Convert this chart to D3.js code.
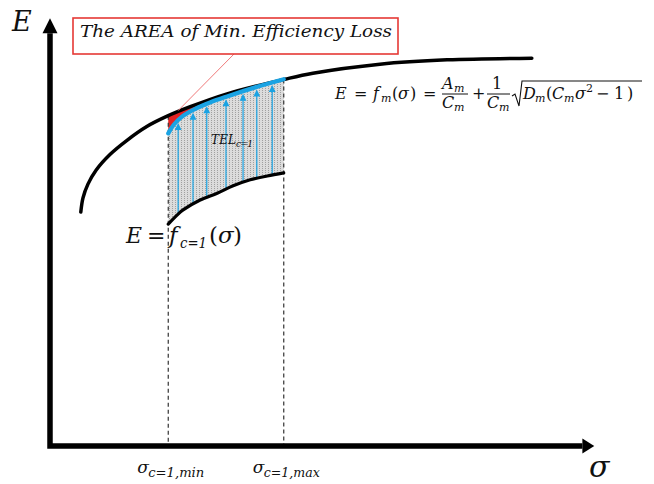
<!DOCTYPE html>
<html>
<head>
<meta charset="utf-8">
<script src="https://cdn.jsdelivr.net/npm/d3@7"></script>
<style>
  html, body { margin: 0; padding: 0; background: #fff; }
  svg { display: block; }
  text { font-family: 'DejaVu Serif', serif; fill: #111; }
</style>
</head>
<body>
<svg id="chart" width="654" height="484"></svg>
<script>
// Curve points, [sigma, E]
const upperCurve = [
  [0.56, 5.44], [0.60, 5.77], [0.69, 6.09], [0.84, 6.42], [1.09, 6.78],
  [1.40, 7.11], [1.76, 7.43], [2.13, 7.67], [2.55, 7.89], [3.22, 8.19],
  [4.27, 8.53], [4.78, 8.67], [6.00, 8.88], [7.22, 8.98], [8.76, 9.02]
]
const blueCurve = [
  [2.15, 7.27], [2.25, 7.47], [2.40, 7.66], [2.64, 7.84], [2.91, 7.99],
  [3.22, 8.13], [3.73, 8.34], [4.25, 8.53]
]
const lowerCurve = [
  [2.15, 5.16], [2.31, 5.37], [2.42, 5.49], [2.73, 5.72], [3.04, 5.88],
  [3.33, 6.05], [3.64, 6.19], [3.95, 6.28], [4.25, 6.35]
]
const arrowSigmas = [2.33, 2.60, 2.85, 3.20, 3.51, 3.76, 4.04]
const sigmaMin = 2.15
const sigmaMax = 4.25
const axisEnd = 9.95

const blue = '#1aa3e3'
const red = '#e52222'

const svg = d3.select('#chart')

const x = d3.scaleLinear().domain([0, 10]).range([50, 600])
const y = d3.scaleLinear().domain([0, 10]).range([446, 16])

// piecewise lookups along each curve
const lerp = pts => d3.scaleLinear().domain(pts.map(d => d[0])).range(pts.map(d => d[1]))
const upperAt = lerp(upperCurve)
const blueAt = lerp(blueCurve)
const lowerAt = lerp(lowerCurve)

const curve = d3.curveCatmullRom.alpha(0.5)
const line = d3.line().x(d => x(d[0])).y(d => y(d[1])).curve(curve)
const below = d3.area().x(d => x(d[0])).y0(y(0)).y1(d => y(d[1])).curve(curve)
const above = d3.area().x(d => x(d[0])).y0(d => y(d[1])).y1(y(10)).curve(curve)

const defs = svg.append('defs')
defs.append('clipPath').attr('id', 'underBlue').append('path').attr('d', below(blueCurve))
defs.append('clipPath').attr('id', 'underUpper').append('path').attr('d', below(upperCurve))

const hatch = defs.append('pattern')
  .attr('id', 'hatch')
  .attr('patternUnits', 'userSpaceOnUse')
  .attr('width', 3).attr('height', 2)
hatch.append('rect').attr('width', 3).attr('height', 2).attr('fill', '#dcdcdc')
hatch.append('rect').attr('x', 1).attr('width', 1).attr('height', 1).attr('fill', '#a0a0a0')

// hatched loss area between lower curve and blue curve
svg.append('g').attr('clip-path', 'url(#underBlue)')
  .append('path')
  .attr('d', above(lowerCurve))
  .attr('fill', 'url(#hatch)')

// red sliver between blue curve and upper curve
svg.append('g').attr('clip-path', 'url(#underUpper)')
  .append('path')
  .attr('d', above(blueCurve))
  .attr('fill', red)

// dashed guides
svg.selectAll('.guide')
  .data([sigmaMin, sigmaMax])
  .enter().append('line')
  .attr('class', 'guide')
  .attr('x1', d => x(d)).attr('x2', d => x(d))
  .attr('y1', d => y(upperAt(d))).attr('y2', y(0))
  .attr('stroke', '#333').attr('stroke-width', 1.2)
  .attr('stroke-dasharray', '4,3')

// blue arrows
const arrows = svg.append('g')
arrowSigmas.forEach(s => {
  const xs = x(s)
  const tip = y(blueAt(s)) + 2.5
  arrows.append('line')
    .attr('x1', xs).attr('x2', xs)
    .attr('y1', y(lowerAt(s))).attr('y2', tip + 4)
    .attr('stroke', blue).attr('stroke-width', 1.2)
  arrows.append('path')
    .attr('d', `M${xs},${tip}L${xs - 3.4},${tip + 7}L${xs + 3.4},${tip + 7}Z`)
    .attr('fill', blue)
})

// curves
svg.append('path').attr('d', line(lowerCurve))
  .attr('fill', 'none').attr('stroke', '#000').attr('stroke-width', 3.2).attr('stroke-linecap', 'round')
svg.append('path').attr('d', line(upperCurve))
  .attr('fill', 'none').attr('stroke', '#000').attr('stroke-width', 3.5).attr('stroke-linecap', 'round')
svg.append('path').attr('d', line(blueCurve))
  .attr('fill', 'none').attr('stroke', blue).attr('stroke-width', 4.2).attr('stroke-linecap', 'round')

// axes with arrow heads
svg.append('path')
  .attr('d', d3.line()([[x(0), y(9.6)], [x(0), y(0)], [x(9.68), y(0)]]))
  .attr('fill', 'none').attr('stroke', '#000').attr('stroke-width', 5.5)
svg.append('path')
  .attr('d', `M${x(0)},${y(axisEnd)}L${x(0) - 7.5},${y(9.6)}L${x(0) + 7.5},${y(9.6)}Z`)
  .attr('fill', '#000')
svg.append('path')
  .attr('d', `M${x(axisEnd) - 3},${y(0)}L${x(9.68)},${y(0) - 7.5}L${x(9.68)},${y(0) + 7.5}Z`)
  .attr('fill', '#000')

// helper for math-like text runs
const put = (g, str, px, py, size, italic) => g.append('text')
  .attr('x', px).attr('y', py)
  .attr('font-size', size)
  .attr('font-style', italic ? 'italic' : 'normal')
  .text(str)

// axis titles
put(svg, 'E', 12, 31, 27, true)
put(svg, 'σ', 589, 477, 30, true)

// sigma tick labels
const tickLab = [[sigmaMin, 'min'], [sigmaMax, 'max']]
tickLab.forEach(([s, k]) => {
  const x0 = x(s) - 31
  put(svg, 'σ', x0, 473, 17, true)
  put(svg, 'c=1,' + k, x0 + 11, 477, 12, true).attr('textLength', 56).attr('lengthAdjust', 'spacingAndGlyphs')
})

// lower curve label
put(svg, 'E', 126, 243, 22, true)
put(svg, '=', 147, 243, 22, false)
put(svg, 'f', 169, 243, 23, true)
put(svg, 'c=1', 180, 248, 14, true).attr('textLength', 27).attr('lengthAdjust', 'spacingAndGlyphs')
put(svg, '(', 209, 243, 23, false)
put(svg, 'σ', 218, 243, 23, true)
put(svg, ')', 233, 243, 23, false)

// TEL label
put(svg, 'TEL', 211, 144, 12, true).attr('textLength', 25)
put(svg, 'c=1', 236, 147, 9, true).attr('textLength', 17)

// formula
const f = svg.append('g').attr('transform', 'translate(335,0)')
put(f, 'E', 0, 99, 16, true)
put(f, '=', 19, 99, 16, false)
put(f, 'f', 38, 99, 16, true)
put(f, 'm', 46, 102, 11, true)
put(f, '(', 57, 99, 16, false)
put(f, 'σ', 63, 99, 16, true)
put(f, ')', 75, 99, 16, false)
put(f, '=', 88, 99, 16, false)
put(f, 'A', 107, 89, 16, true)
put(f, 'm', 119, 92, 11, true)
f.append('line').attr('x1', 107).attr('x2', 133).attr('y1', 94).attr('y2', 94).attr('stroke', '#111').attr('stroke-width', 1)
put(f, 'C', 107, 108, 16, true)
put(f, 'm', 119, 111, 11, true)
put(f, '+', 137, 99, 16, false)
put(f, '1', 157, 89, 16, false)
f.append('line').attr('x1', 152).attr('x2', 175).attr('y1', 94).attr('y2', 94).attr('stroke', '#111').attr('stroke-width', 1)
put(f, 'C', 152, 108, 16, true)
put(f, 'm', 164, 111, 11, true)
f.append('path')
  .attr('d', 'M177,96L180,94L184,106L187,81L307,81')
  .attr('fill', 'none').attr('stroke', '#111').attr('stroke-width', 1.1)
put(f, 'D', 188, 99, 16, true)
put(f, 'm', 200, 102, 11, true)
put(f, '(', 211, 99, 16, false)
put(f, 'C', 217, 99, 16, true)
put(f, 'm', 229, 102, 11, true)
put(f, 'σ', 240, 99, 16, true)
put(f, '2', 251, 92, 11, false)
put(f, '−', 261, 99, 16, false)
put(f, '1', 279, 99, 16, false)
put(f, ')', 292, 99, 16, false)

// annotation box and leader
svg.append('line')
  .attr('x1', 234).attr('y1', 54).attr('x2', x(2.33)).attr('y2', y(7.8))
  .attr('stroke', '#f07a7a').attr('stroke-width', 1)
svg.append('rect')
  .attr('x', 73).attr('y', 18).attr('width', 325).attr('height', 36)
  .attr('fill', '#fff').attr('stroke', '#e53935').attr('stroke-width', 1.6)
put(svg, 'The AREA of Min. Efficiency Loss', 80, 37, 17, true)
  .attr('textLength', 312).attr('lengthAdjust', 'spacingAndGlyphs')
</script>
</body>
</html>
